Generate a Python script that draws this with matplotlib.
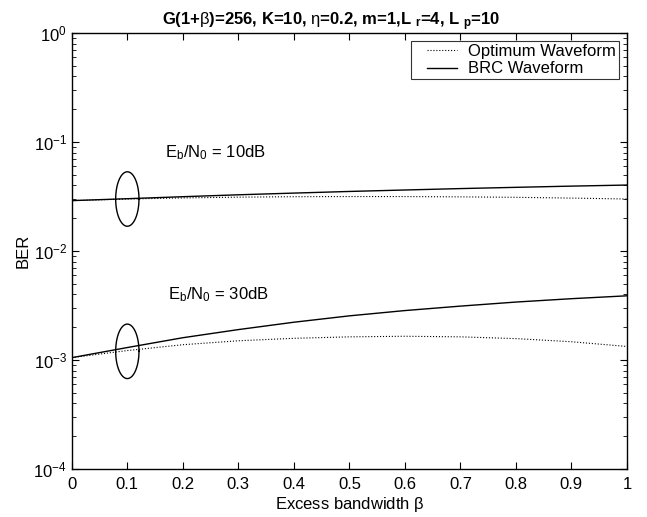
import numpy as np
import matplotlib
matplotlib.use("Agg")
import matplotlib.pyplot as plt
from matplotlib.lines import Line2D
from matplotlib.legend_handler import HandlerLine2D
from matplotlib.ticker import LogLocator, NullFormatter

plt.rcParams['font.family'] = ['Liberation Sans', 'DejaVu Sans']
plt.rcParams['mathtext.fontset'] = 'custom'
plt.rcParams['mathtext.rm'] = 'Liberation Sans'
plt.rcParams['mathtext.it'] = 'Liberation Sans'
plt.rcParams['mathtext.bf'] = 'Liberation Sans:bold'

# excess bandwidth beta
beta = [0.0, 0.1, 0.2, 0.3, 0.4, 0.5, 0.6, 0.7, 0.8, 0.9, 1.0]

# BER values
opt_10db = [0.0290, 0.0300, 0.0307, 0.0312, 0.0315, 0.0316, 0.0316, 0.0314, 0.0311, 0.0306, 0.0300]
brc_10db = [0.0290, 0.0302, 0.0315, 0.0328, 0.0340, 0.0352, 0.0363, 0.0374, 0.0384, 0.0394, 0.0403]
opt_30db = [0.00105, 0.00122, 0.00138, 0.00150, 0.00158, 0.00163, 0.00165, 0.00163, 0.00157, 0.00147, 0.00133]
brc_30db = [0.00105, 0.00130, 0.00160, 0.00190, 0.00222, 0.00254, 0.00284, 0.00312, 0.00340, 0.00365, 0.00388]

# ellipse marking each pair of curves
ellipse_x = [0.1, 0.1]
ellipse_y = [0.0300, 0.00120]
labels = [r'E$_{\rm b}$/N$_{\rm 0}$ = 10dB', r'E$_{\rm b}$/N$_{\rm 0}$ = 30dB']
label_pos = [(0.168, 0.080), (0.173, 0.0040)]

fig = plt.figure(figsize=(6.47, 5.17), dpi=100)
ax = fig.add_axes([0.111, 0.093, 0.858, 0.843])

ax.semilogy(beta, opt_10db, ls=':', color='k', lw=0.8, label='Optimum Waveform')
ax.semilogy(beta, brc_10db, ls='-', color='k', lw=1.0, label='BRC Waveform')
ax.semilogy(beta, opt_30db, ls=':', color='k', lw=0.8)
ax.semilogy(beta, brc_30db, ls='-', color='k', lw=1.0)

t = np.linspace(0, 2 * np.pi, 200)
for cx, cy in zip(ellipse_x, ellipse_y):
    ax.plot(cx + 0.021 * np.cos(t), cy * 10 ** (0.25 * np.sin(t)), color='k', lw=1.0)

for txt, (tx, ty) in zip(labels, label_pos):
    ax.text(tx, ty, txt, fontsize=12, va='center', ha='left')

ax.set_xlim(0, 1)
ax.set_ylim(1e-4, 1)
ax.set_xticks(np.arange(0, 1.01, 0.1))
ax.set_xticklabels(['0', '0.1', '0.2', '0.3', '0.4', '0.5', '0.6', '0.7', '0.8', '0.9', '1'])
ax.yaxis.set_minor_locator(LogLocator(base=10, subs=np.arange(2, 10)))
ax.yaxis.set_minor_formatter(NullFormatter())
ax.tick_params(which='both', direction='in', top=True, right=True, labelsize=12)
ax.tick_params(axis='x', pad=6)
ax.tick_params(which='major', length=5)
ax.tick_params(which='minor', length=3)
for s in ax.spines.values():
    s.set_linewidth(1.0)

ax.set_xlabel(r'Excess bandwidth $\beta$', fontsize=12, labelpad=2)
ax.set_ylabel('BER', fontsize=12, labelpad=2)
ax.set_title(r'G(1+$\beta$)=256, K=10, $\eta$=0.2, m=1,L $_{\mathbf{r}}$=4, L $_{\mathbf{p}}$=10',
             fontsize=12, fontweight='bold', pad=3, x=0.467)

leg = ax.legend(loc='upper right', fontsize=12, frameon=True, fancybox=False,
                borderaxespad=0.5, handlelength=2.6, handletextpad=0.7,
                borderpad=0.15, labelspacing=0.15,
                handler_map={Line2D: HandlerLine2D(xpad=0.85)})
leg.get_frame().set_edgecolor('k')
leg.get_frame().set_linewidth(0.8)

fig.savefig('out.png', dpi=100)
